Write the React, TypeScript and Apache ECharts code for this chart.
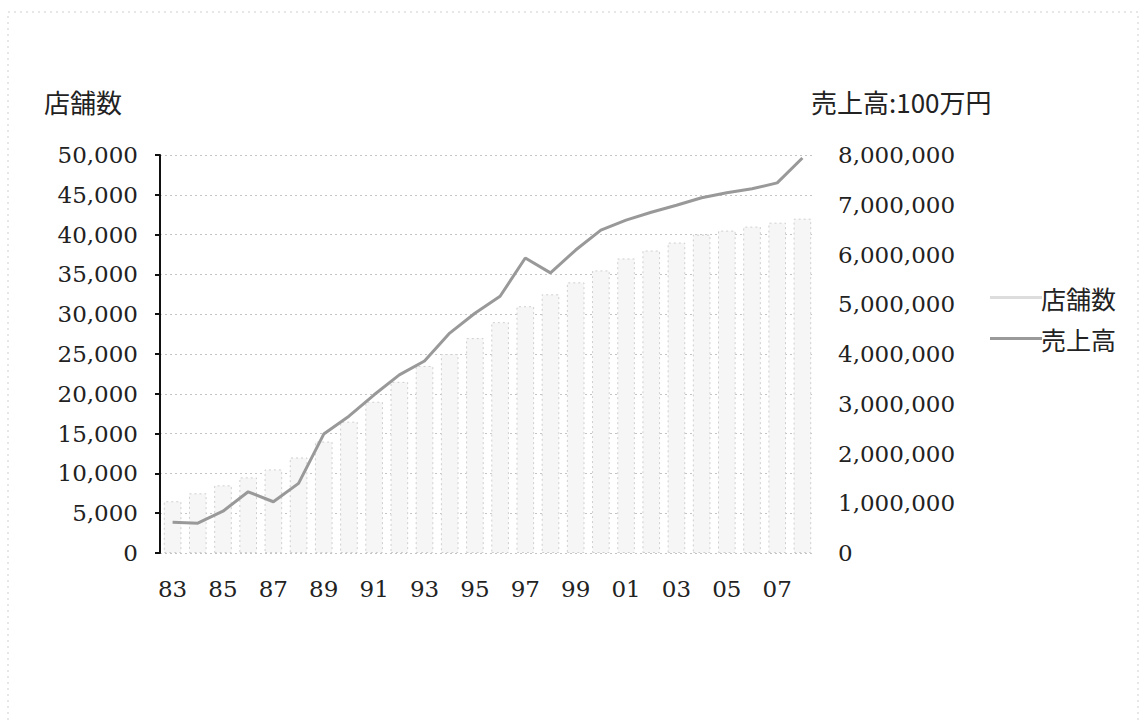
import React, { useEffect, useRef } from "react";
import * as echarts from "echarts";

const years = ["83","84","85","86","87","88","89","90","91","92","93","94","95","96","97","98","99","00","01","02","03","04","05","06","07","08"];
const storeCounts = [6500,7500,8500,9500,10500,12000,14000,16500,19000,21500,23500,25000,27000,29000,31000,32500,34000,35500,37000,38000,39000,40000,40500,41000,41500,42000];
const sales = [620000,600000,840000,1230000,1030000,1400000,2390000,2750000,3180000,3580000,3860000,4420000,4820000,5160000,5930000,5630000,6090000,6490000,6690000,6850000,6990000,7140000,7240000,7320000,7440000,7940000];
const leftTitle = "店舗数";
const rightTitle = "売上高:100万円";
const seriesNames = ["店舗数", "売上高"];

const serif = "'DejaVu Serif', 'Liberation Serif', serif";
const cjk = "'Noto Sans CJK JP', 'Noto Sans', sans-serif";

export default function App() {
  const ref = useRef<HTMLDivElement>(null);
  useEffect(() => {
    document.body.style.margin = "0";
    const chart = echarts.init(ref.current!, null, { renderer: "svg" });
    const fmt = (v: number) => v.toLocaleString("en-US");
    chart.setOption({
      animation: false,
      backgroundColor: "#ffffff",
      graphic: [
        {
          type: "rect",
          shape: { x: 8, y: 12, width: 1130, height: 760 },
          style: { fill: "none", stroke: "#cfcfcf", lineWidth: 1, lineDash: [2, 4] },
          silent: true,
        },
        {
          type: "text",
          left: 44,
          top: 88,
          style: { text: leftTitle, font: `26px ${cjk}`, fill: "#222" },
        },
        {
          type: "text",
          left: 811,
          top: 88,
          style: { text: rightTitle, font: `26px ${cjk}`, fill: "#222" },
        },
      ],
      legend: {
        orient: "vertical",
        left: 985,
        top: 280,
        itemGap: 16,
        itemWidth: 52,
        itemHeight: 3,
        textStyle: { fontFamily: cjk, fontSize: 25, color: "#222", padding: [0, 0, 0, -6] },
        data: [
          { name: seriesNames[0], icon: "rect", itemStyle: { color: "#dddddd", borderWidth: 0 } },
          { name: seriesNames[1], icon: "rect", itemStyle: { color: "#9a9a9a" } },
        ],
      },
      grid: { left: 160, right: 326, top: 155, bottom: 167, containLabel: false },
      xAxis: {
        type: "category",
        data: years,
        boundaryGap: true,
        axisLine: { show: false },
        axisTick: { show: false },
        axisLabel: {
          interval: 1,
          margin: 24,
          fontFamily: serif,
          fontSize: 23,
          color: "#222",
        },
      },
      yAxis: [
        {
          type: "value",
          min: 0,
          max: 50000,
          interval: 5000,
          position: "left",
          axisLine: { show: true, lineStyle: { color: "#111", width: 2 } },
          axisTick: { show: true, inside: false, length: 5, lineStyle: { color: "#111", width: 2 } },
          axisLabel: { margin: 22, fontFamily: serif, fontSize: 23, color: "#222", formatter: fmt },
          splitLine: { show: true, lineStyle: { color: "#c4c4c4", type: [2, 3], width: 1 } },
        },
        {
          type: "value",
          min: 0,
          max: 8000000,
          interval: 1000000,
          position: "right",
          axisLine: { show: false },
          axisTick: { show: false },
          axisLabel: { margin: 23, fontFamily: serif, fontSize: 23, color: "#222", formatter: fmt },
          splitLine: { show: false },
        },
      ],
      series: [
        {
          name: seriesNames[0],
          type: "bar",
          yAxisIndex: 0,
          data: storeCounts,
          barCategoryGap: "30%",
          itemStyle: { color: "#f6f6f6", borderColor: "#cfcfcf", borderWidth: 1, borderType: [2, 3] },
        },
        {
          name: seriesNames[1],
          type: "line",
          yAxisIndex: 1,
          data: sales,
          symbol: "none",
          lineStyle: { color: "#999999", width: 3 },
          itemStyle: { color: "#999999" },
        },
      ],
    });
    return () => chart.dispose();
  }, []);
  return <div ref={ref} style={{ width: 1141, height: 720 }} />;
}
